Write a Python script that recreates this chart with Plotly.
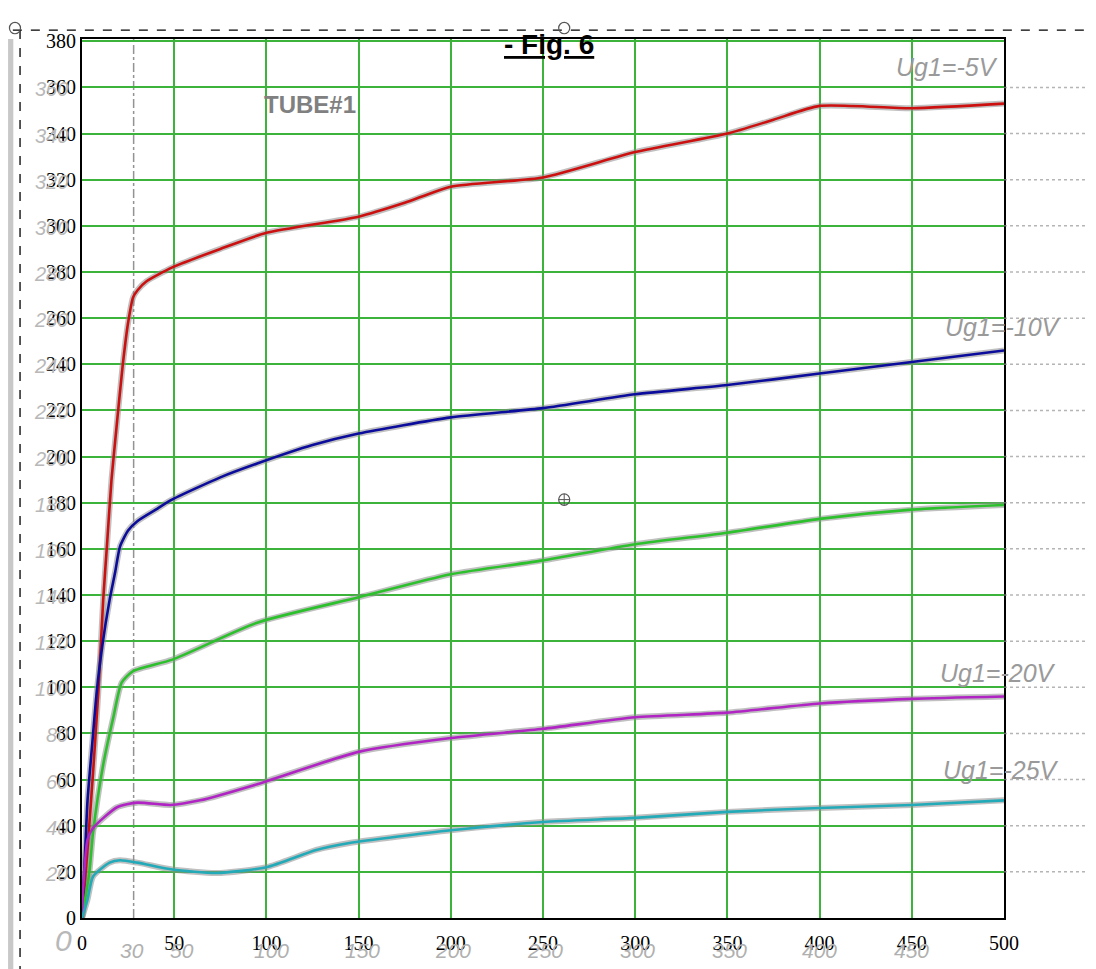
import plotly.graph_objects as go

# ---- data (anode voltage vs anode current) ----
x_m5 = [0, 3, 6, 9, 11.5, 13.5, 16, 19, 22, 25, 27.7, 30, 35, 49, 75, 100, 150, 175, 200, 250, 300, 350, 375, 400, 450, 500]
y_m5 = [0, 30, 63, 100, 138, 161, 190, 215, 239, 258, 269, 272, 276, 282, 290, 297, 304, 310, 317, 321, 332, 340, 346, 352, 351, 353]

x_m10 = [0, 1.5, 3, 5.5, 8, 11, 15, 18, 20.6, 25, 30, 40, 48, 75, 95, 125, 150, 200, 250, 300, 350, 400, 450, 500]
y_m10 = [0, 25, 51, 75, 98, 118, 138, 150, 161, 168, 172, 177, 181, 191, 197, 205, 210, 217, 221, 227, 231, 236, 241, 246]

x_m14 = [0, 4, 6, 11.4, 17, 21.5, 27.7, 49, 95, 150, 200, 250, 300, 350, 400, 450, 500]
y_m14 = [0, 20, 37, 66, 87, 102, 107, 112, 128, 139, 149, 155, 162, 167, 173, 177, 179]

x_m20 = [0, 0.5, 3, 6, 19, 30, 48, 64, 95, 150, 200, 250, 300, 350, 400, 450, 500]
y_m20 = [0, 11, 34, 39, 48, 50, 49, 51, 58, 72, 78, 82, 87, 89, 93, 95, 96]

x_m25 = [0, 3, 6, 15, 20.6, 30, 49, 73, 100, 127, 145, 200, 250, 300, 350, 400, 450, 500]
y_m25 = [0, 8, 18, 24, 25, 24, 21, 19.5, 22, 29.5, 32.5, 38, 41.6, 43.4, 46, 47.7, 49, 51]

series_names = ["Ug1=-5V", "Ug1=-10V", "Ug1=-14V", "Ug1=-20V", "Ug1=-25V"]
series_x = [x_m5, x_m10, x_m14, x_m20, x_m25]
series_y = [y_m5, y_m10, y_m14, y_m20, y_m25]
colors = ["#cc1010", "#0c0c9c", "#2cc02c", "#b024c4", "#22aab8"]
label_pos = [(469, 369), (499.5, 256), (513, 189), (497, 106), (498.5, 64)]

x_ticks = list(range(0, 501, 50))
y_ticks = list(range(0, 381, 20))
scan_x_labels = [(27, "30"), (54, "50"), (103, "100"), (152, "150"), (201, "200"), (251, "250"),
                 (301, "300"), (351, "350"), (400, "400"), (450, "450"), (505, "500")]

fig = go.Figure()

# gray shadow of the scanned curves
for xs, ys in zip(series_x, series_y):
    fig.add_trace(go.Scatter(x=xs, y=ys, mode="lines", line=dict(color="rgba(140,140,140,0.55)", width=6, shape="spline", smoothing=0.6),
                             hoverinfo="skip", showlegend=False))
for xs, ys, c, n in zip(series_x, series_y, colors, series_names):
    fig.add_trace(go.Scatter(x=xs, y=ys, mode="lines", name=n, line=dict(color=c, width=2.6, shape="spline", smoothing=0.6),
                             showlegend=False))

ann = []
for (lx, ly), n in zip(label_pos, series_names):
    ann.append(dict(x=lx, y=ly, xref="x", yref="y", text="<i>" + n + "</i>", showarrow=False,
                    font=dict(family="Liberation Sans", size=25, color="#9a9a9a"), xanchor="center", yanchor="middle"))
ann.append(dict(x=123.6, y=352.7, xref="x", yref="y", text="<b>TUBE#1</b>", showarrow=False,
                font=dict(family="Liberation Sans", size=24, color="#808080")))
ann.append(dict(x=0.506, y=0.9943, xref="paper", yref="paper", text="<b><u>- Fig. 6</u></b>", showarrow=False,
                font=dict(family="Liberation Sans", size=28, color="black"), yanchor="middle"))
# scanned (gray italic) x labels
for vx, t in scan_x_labels:
    ann.append(dict(x=vx, y=0, xref="x", yref="paper", text="<i>" + t + "</i>", showarrow=False, yshift=-32,
                    font=dict(family="Liberation Sans", size=21, color="#b0b0b0"), yanchor="middle"))
# scanned (gray italic) y labels
for vy in y_ticks[1:-1]:
    ann.append(dict(x=0, y=vy, xref="paper", yref="y", text="<i>" + str(vy) + "</i>", showarrow=False, xshift=-12, yshift=-2,
                    font=dict(family="Liberation Sans", size=20, color="#b8b8b8"), xanchor="right", yanchor="middle"))
ann.append(dict(x=0, y=0, xref="paper", yref="paper", text="<i>0</i>", showarrow=False, xshift=-19, yshift=-22,
                font=dict(family="Liberation Sans", size=30, color="#b8b8b8"), xanchor="center", yanchor="middle"))

shapes = []
# scan grid continuing to the right of the frame
for vy in y_ticks[1:-1]:
    shapes.append(dict(type="line", xref="paper", yref="y", x0=1.0, x1=1.1, y0=vy, y1=vy,
                       line=dict(color="rgba(150,150,150,0.7)", width=1.5, dash="dot")))
# scanned dashed vertical line
shapes.append(dict(type="line", xref="x", yref="paper", x0=28, x1=28, y0=0, y1=1,
                   line=dict(color="rgba(120,120,120,0.8)", width=1.5, dash="dashdot"), layer="below"))
# selection box dashed border
shapes.append(dict(type="line", xref="paper", yref="paper", x0=-0.075, x1=1.1, y0=1.0102, y1=1.0102,
                   line=dict(color="black", width=1.3, dash="dash")))
shapes.append(dict(type="line", xref="paper", yref="paper", x0=-0.0672, x1=-0.0672, y0=1.0102, y1=-0.06,
                   line=dict(color="black", width=1.3, dash="dash")))
shapes.append(dict(type="rect", xref="paper", yref="paper", x0=-0.0802, x1=-0.0745, y0=1.0, y1=-0.06,
                   fillcolor="#c8c8c8", line=dict(width=0)))
for cx, cy in [(-0.0727, 1.0125), (0.523, 1.0125), (0.523, 0.476)]:
    shapes.append(dict(type="circle", xref="paper", yref="paper", x0=cx - 0.006, x1=cx + 0.006, y0=cy - 0.0065, y1=cy + 0.0065,
                       line=dict(color="#555", width=1.2)))
shapes.append(dict(type="line", xref="paper", yref="paper", x0=0.517, x1=0.529, y0=0.476, y1=0.476, line=dict(color="#555", width=1)))
shapes.append(dict(type="line", xref="paper", yref="paper", x0=0.523, x1=0.523, y0=0.4695, y1=0.4825, line=dict(color="#555", width=1)))

fig.update_layout(
    width=1096, height=969,
    margin=dict(l=74, r=100, t=31, b=59),
    paper_bgcolor="white", plot_bgcolor="white",
    annotations=ann, shapes=shapes,
    xaxis=dict(range=[0, 500], tickvals=x_ticks, showgrid=True, gridcolor="#3cb43c", gridwidth=2,
               showline=True, linecolor="black", linewidth=2, mirror=True, zeroline=False, ticks="",
               ticklabelstandoff=6,
               tickfont=dict(family="Liberation Serif", size=20, color="black")),
    yaxis=dict(range=[0, 381], tickvals=y_ticks, showgrid=True, gridcolor="#3cb43c", gridwidth=2,
               showline=True, linecolor="black", linewidth=2, mirror=True, zeroline=False, ticks="",
               tickfont=dict(family="Liberation Serif", size=20, color="black")),
)

fig.write_html("out.html")
